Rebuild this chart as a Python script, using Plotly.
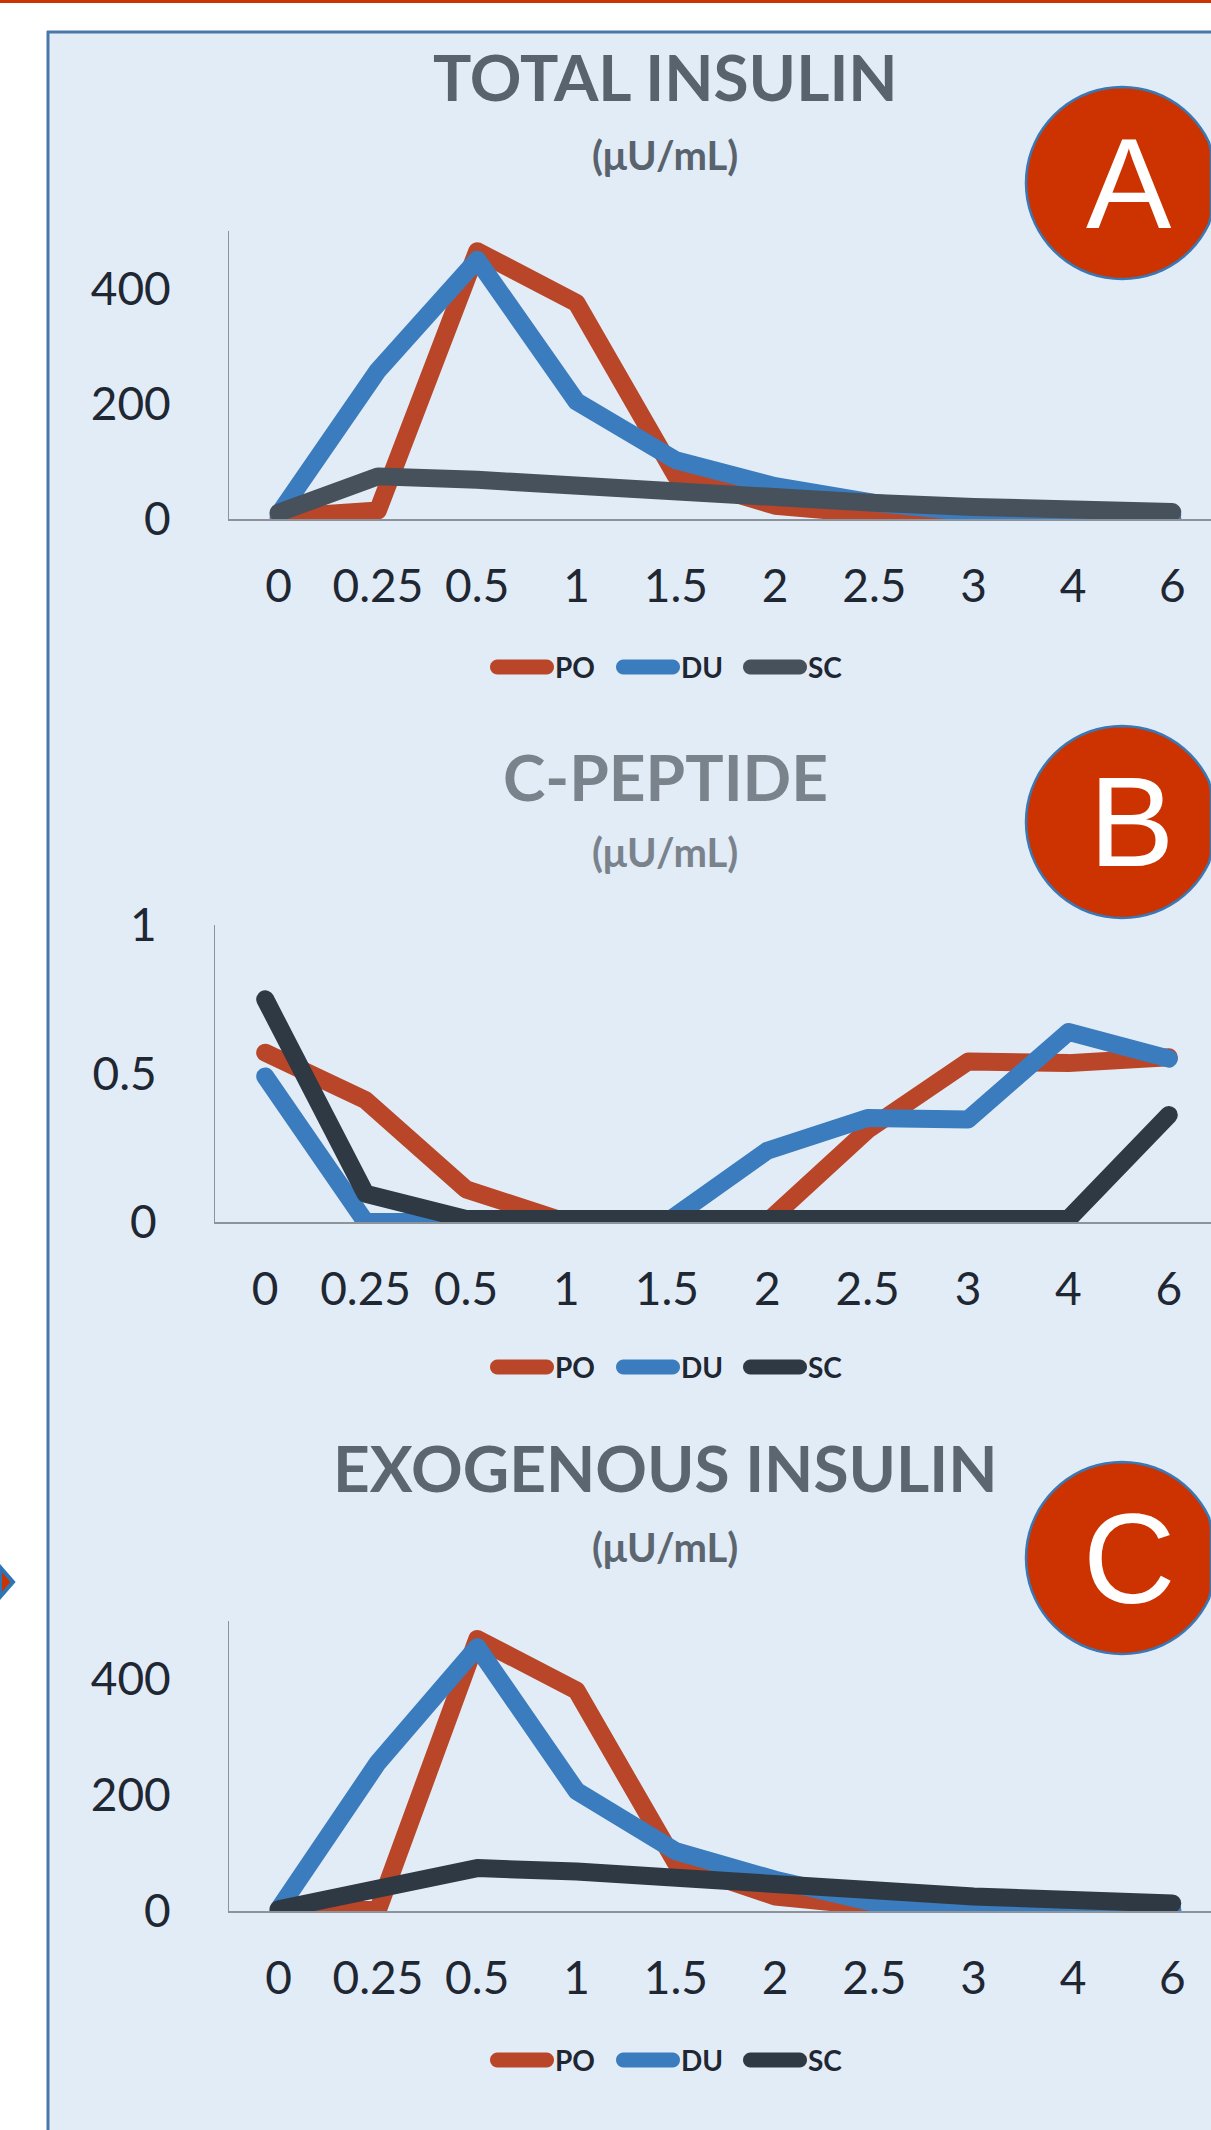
import math
import plotly.graph_objects as go

W, H = 1211, 2130

# ---------------- data ----------------
times = ["0", "0.25", "0.5", "1", "1.5", "2", "2.5", "3", "4", "6"]
series_names = ["PO", "DU", "SC"]

# A: total insulin (uU/mL)
po_total = [3, 15, 465, 375, 75, 23, 8, 3, 2, 1]
du_total = [8, 258, 450, 204, 102, 57, 28, 11, 8, 8]
sc_total = [11, 74, 68, 57, 51, 37, 28, 21, 17, 12]

# B: C-peptide
po_cpep = [0.57, 0.41, 0.11, 0.0, 0.0, 0.0, 0.31, 0.54, 0.535, 0.555]
du_cpep = [0.49, 0.0, 0.0, 0.0, 0.0, 0.24, 0.35, 0.345, 0.64, 0.55]
sc_cpep = [0.75, 0.095, 0.01, 0.01, 0.01, 0.01, 0.01, 0.01, 0.01, 0.36]

# C: exogenous insulin
po_exo = [0, 2, 469, 380, 83, 25, 8, 3, 1, 0]
du_exo = [3, 256, 455, 207, 103, 54, 14, 8, 3, 2]
sc_exo = [3, 39, 74, 68, 56, 48, 31, 25, 19, 13]

panel_titles = ["TOTAL INSULIN", "C-PEPTIDE", "EXOGENOUS INSULIN"]
panel_units = ["(\u03bcU/mL)", "(\u03bcU/mL)", "(\u03bcU/mL)"]
panel_letters = ["A", "B", "C"]
y_tickvals = [[0, 200, 400], [0, 0.5, 1], [0, 200, 400]]
y_ticktext = [["0", "200", "400"], ["0", "0.5", "1"], ["0", "200", "400"]]
y_ranges = [[0, 500], [0, 1], [0, 500]]

# ---------------- style ----------------
PO_C = "#B94628"
DU_C = "#3A7CBD"
SC_CS = ["#46515B", "#2F3944", "#2F3944"]
TITLE_CS = ["#59636D", "#7A838C", "#5C6670"]
TXT = "#1E2732"
FONT = "Lato"
AX_C = "#8C939A"
PANEL_BG = "#E2ECF7"
LW = 18

def px(x):
    return x / W

def py(y):
    return 1 - y / H

geo = [
    dict(xl=229, yb=519, yt=231, xr=9.39, title_y=77, sub_y=155, circ_y=183, let_x=1129, leg_y=667),
    dict(xl=215, yb=1222, yt=925, xr=9.42, title_y=777, sub_y=852, circ_y=822, let_x=1131, leg_y=1367),
    dict(xl=229, yb=1911, yt=1621, xr=9.39, title_y=1467, sub_y=1547, circ_y=1558, let_x=1129, leg_y=2060),
]
datasets = [
    [po_total, du_total, sc_total],
    [po_cpep, du_cpep, sc_cpep],
    [po_exo, du_exo, sc_exo],
]

fig = go.Figure()
shapes = []
annotations = []

# page decorations
shapes.append(dict(type="rect", xref="paper", yref="paper", x0=0, x1=1, y0=py(3), y1=1,
                   fillcolor="#CC3300", line=dict(width=0), layer="below"))
shapes.append(dict(type="rect", xref="paper", yref="paper", x0=px(48), x1=1, y0=0, y1=py(32),
                   fillcolor=PANEL_BG, line=dict(width=0), layer="below"))
shapes.append(dict(type="line", xref="paper", yref="paper", x0=px(48), x1=px(48), y0=0, y1=py(31),
                   line=dict(color="#4A77A8", width=3), layer="below"))
shapes.append(dict(type="line", xref="paper", yref="paper", x0=px(47), x1=1, y0=py(32), y1=py(32),
                   line=dict(color="#4A77A8", width=3), layer="below"))
shapes.append(dict(type="path", xref="paper", yref="paper",
                   path=f"M0,{py(1567)} L{px(13)},{py(1582)} L0,{py(1597)} Z",
                   fillcolor="#CC3300", line=dict(color="#2E75B6", width=4), layer="above"))


def capsule(x0, x1, cy, r):
    pts = []
    for i in range(13):
        a = -math.pi / 2 + math.pi * i / 12
        pts.append((x1 - r + r * math.cos(a), cy + r * math.sin(a)))
    for i in range(13):
        a = math.pi / 2 + math.pi * i / 12
        pts.append((x0 + r + r * math.cos(a), cy + r * math.sin(a)))
    return "M" + " L".join(f"{px(x):.5f},{py(y):.5f}" for x, y in pts) + " Z"


leg_pos = [(490, 554), (616, 680), (743, 807)]

for i in range(3):
    g = geo[i]
    sfx = "" if i == 0 else str(i + 1)
    xa = "x" + sfx
    ya = "y" + sfx
    colors = [PO_C, DU_C, SC_CS[i]]
    for name, vals, col in zip(series_names, datasets[i], colors):
        fig.add_trace(go.Scatter(x=times, y=vals, mode="lines", name=name,
                                 line=dict(color=col, width=LW), xaxis=xa, yaxis=ya,
                                 showlegend=False, hoverinfo="skip"))
    fig.update_layout({
        "xaxis" + sfx: dict(domain=[px(g["xl"]), 1], range=[-0.5, g["xr"]], type="category",
                           anchor=ya, showline=True, linecolor=AX_C, linewidth=2, automargin=False,
                           showgrid=False, zeroline=False, ticks="", ticklabelstandoff=26,
                           tickfont=dict(family=FONT, size=46, color=TXT), layer="below traces"),
        "yaxis" + sfx: dict(domain=[py(g["yb"]), py(g["yt"])], range=y_ranges[i], automargin=False,
                           anchor=xa, showline=True, linecolor=AX_C, linewidth=1,
                           showgrid=False, zeroline=False, ticks="",
                           tickvals=y_tickvals[i], ticktext=y_ticktext[i], ticklabelstandoff=48,
                           tickfont=dict(family=FONT, size=46, color=TXT), layer="below traces"),
    })
    annotations.append(dict(text=f"<b>{panel_titles[i]}</b>", xref="paper", yref="paper",
                            x=px(665), y=py(g["title_y"]), xanchor="center", yanchor="middle",
                            showarrow=False, font=dict(family=FONT, size=64, color=TITLE_CS[i])))
    annotations.append(dict(text=f"<b>{panel_units[i]}</b>", xref="paper", yref="paper",
                            x=px(665), y=py(g["sub_y"]), xanchor="center", yanchor="middle",
                            showarrow=False, font=dict(family=FONT, size=40, color=TITLE_CS[i])))
    cy = g["circ_y"]
    pts = []
    for k in range(0, 73):
        a = 2 * math.pi * k / 72
        xx = min(1122 + 96 * math.cos(a), W)
        pts.append((xx, cy + 96 * math.sin(a)))
    cpath = "M" + " L".join(f"{px(x):.5f},{py(y):.5f}" for x, y in pts) + " Z"
    shapes.append(dict(type="path", xref="paper", yref="paper", path=cpath,
                       fillcolor="#CC3300", line=dict(color="#3A78B5", width=2.5), layer="above"))
    annotations.append(dict(text=panel_letters[i], xref="paper", yref="paper",
                            x=px(g["let_x"]), y=py(cy), xanchor="center", yanchor="middle",
                            showarrow=False, font=dict(family="Liberation Sans", size=128, color="white")))
    for (lx0, lx1), name, col in zip(leg_pos, series_names, colors):
        shapes.append(dict(type="path", xref="paper", yref="paper", path=capsule(lx0, lx1, g["leg_y"], 7.5),
                           fillcolor=col, line=dict(width=0), layer="above"))
        annotations.append(dict(text=f"<b>{name}</b>", xref="paper", yref="paper",
                                x=px(lx1 - 1), y=py(g["leg_y"]), xanchor="left", yanchor="middle",
                                showarrow=False, font=dict(family=FONT, size=28, color=TXT)))

fig.update_layout(width=W, height=H, autosize=False,
                  margin=dict(l=0, r=0, t=0, b=0, pad=0, autoexpand=False),
                  paper_bgcolor="white", plot_bgcolor="rgba(0,0,0,0)",
                  shapes=shapes, annotations=annotations, showlegend=False)

post = ("document.body.style.margin='0';"
        "document.querySelectorAll('.scatterlayer .js-line').forEach(function(p){"
        "p.style.strokeLinejoin='round';p.style.strokeLinecap='round';});")

fig.write_html("out.html", config={"displayModeBar": False}, post_script=post)
